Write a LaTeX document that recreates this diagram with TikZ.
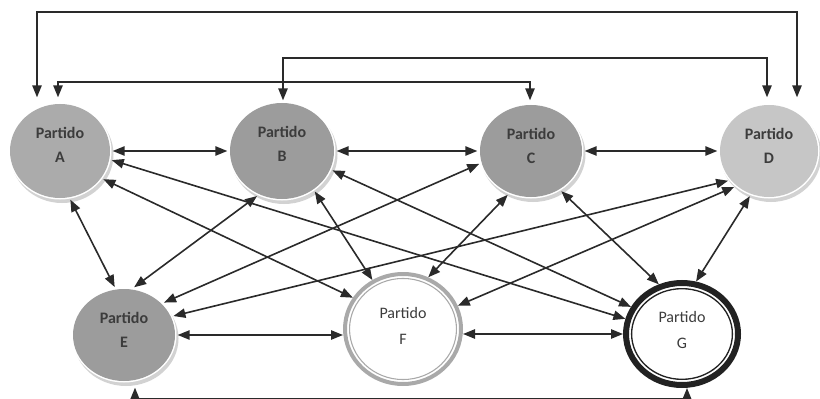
\documentclass[tikz,border=0pt]{standalone}
\usepackage{fontspec}
\setmainfont{Carlito}
\usetikzlibrary{arrows.meta,calc,backgrounds,shapes.geometric}
\definecolor{fillA}{HTML}{ABABAB}
\definecolor{fillB}{HTML}{9C9C9C}
\definecolor{fillD}{HTML}{C6C6C6}
\definecolor{shadowc}{HTML}{D2D2D2}
\definecolor{ringF}{HTML}{A9A9A9}
\definecolor{ringG}{HTML}{222222}
\definecolor{linec}{HTML}{2A2A2A}
\definecolor{textc}{HTML}{3C3C3C}
\begin{document}
\begin{tikzpicture}[x=0.75pt,y=-0.75pt,
  party/.style={ellipse, inner sep=0pt, outer sep=2pt, draw=none},
  open/.style={ellipse, inner sep=0pt, outer sep=0pt, fill=white, draw=none},
  lblb/.style={align=center, text=textc, font=\bfseries\fontsize{12}{18}\selectfont},
  lblr/.style={align=center, text=textc, font=\fontsize{12}{19.5}\selectfont},
  arr/.style={{Triangle[length=9pt,width=7pt]}-{Triangle[length=9pt,width=7pt]}, line width=1.2pt, draw=linec},
]
\useasboundingbox (0,0) rectangle (820,399);

% nodes
\node[party, fill=fillA, minimum width=75pt, minimum height=70.5pt] (A) at (60,151) {};
\node[party, fill=fillB, minimum width=78pt, minimum height=72pt] (B) at (282,151) {};
\node[party, fill=fillB, minimum width=76.5pt, minimum height=69pt] (C) at (531,151) {};
\node[party, fill=fillD, minimum width=73.5pt, minimum height=69pt] (D) at (769,151) {};
\node[party, fill=fillB, minimum width=76.5pt, minimum height=69pt] (E) at (124,335) {};
\node[open, minimum width=90pt, minimum height=85.5pt] (F) at (403,329) {};
\node[open, minimum width=88.5pt, minimum height=81pt] (G) at (682,334) {};

% shadows on background
\begin{pgfonlayer}{background}
  \foreach \n/\rx/\ry in {A/50/47, B/52/48, C/51/46, D/49/46, E/51/46} {
    \fill[shadowc] ($(\n.center)+(2,3.5)$) ellipse [x radius={(\rx+1.5)*0.75pt}, y radius={(\ry+1.5)*0.75pt}];
    \fill[white] (\n.center) ellipse [x radius={(\rx+1.5)*0.75pt}, y radius={(\ry+1.5)*0.75pt}];
  }
\end{pgfonlayer}

% rings of F and G
\draw[ringF, line width=3pt] (F.center) ellipse [x radius=43.5pt, y radius=41.25pt];
\draw[ringF, line width=0.8pt] (F.center) ellipse [x radius=40.1pt, y radius=37.9pt];
\draw[ringG, line width=4.5pt] (G.center) ellipse [x radius=42pt, y radius=38.25pt];
\draw[ringG, line width=1pt] (G.center) ellipse [x radius=37.8pt, y radius=34pt];

% labels
\node[lblb] (At) at ($(A.center)+(0,-6)$) {Partido\\A};
\node[lblb] (Bt) at ($(B.center)+(0,-7)$) {Partido\\B};
\node[lblb] (Ct) at ($(C.center)+(0,-5)$) {Partido\\C};
\node[lblb] (Dt) at ($(D.center)+(0,-5)$) {Partido\\D};
\node[lblb] (Et) at ($(E.center)+(0,-5)$) {Partido\\E};
\node[lblr] (Ft) at ($(F.center)+(0,-3)$) {Partido\\F};
\node[lblr] (Gt) at ($(G.center)+(0,-4)$) {Partido\\G};

% helper coordinates for routed connectors
\coordinate (top1) at (400,12);
\coordinate (top2) at (500,58);
\coordinate (top3) at (300,82);
\coordinate (bot) at (400,399);

% routed connectors
\draw[arr] ($(A.north)+(-23,-4)$) |- (top1) -| ($(D.north)+(28,-5)$);
\draw[arr] ($(B.north)+(1,0)$) |- (top2) -| ($(D.north)+(-2,-5)$);
\draw[arr] ($(A.north)+(-2,-4)$) |- (top3) -| ($(C.north)+(-1,-2)$);
\draw[arr] ($(E.south)+(11,4)$) |- (bot) -| ($(G.south)+(5,0)$);

% horizontal connectors
\draw[arr] (A) -- (B);
\draw[arr] (B) -- (C);
\draw[arr] (C) -- (D);
\draw[arr] (E.east) -- (E.east -| F.west);
\draw[arr] (G.west -| F.east) -- (G.west);

% diagonal connectors
\draw[arr] (A.-10) -- (G.165);
\draw[arr] (A.-33) -- (F.148);
\draw[arr] (A.-78) -- (E.101);
\draw[arr] (B.241) -- (E.78);
\draw[arr] (B.-51) -- (F.122);
\draw[arr] (B.-21) -- (G.152);
\draw[arr] (C.194) -- (E.39);
\draw[arr] (C.-118) -- (F.64);
\draw[arr] (C.-53) -- (G.115);
\draw[arr] (D.216) -- (E.21);
\draw[arr] (D.226) -- (F.23);
\draw[arr] (D.247) -- (G.75);
\end{tikzpicture}
\end{document}
